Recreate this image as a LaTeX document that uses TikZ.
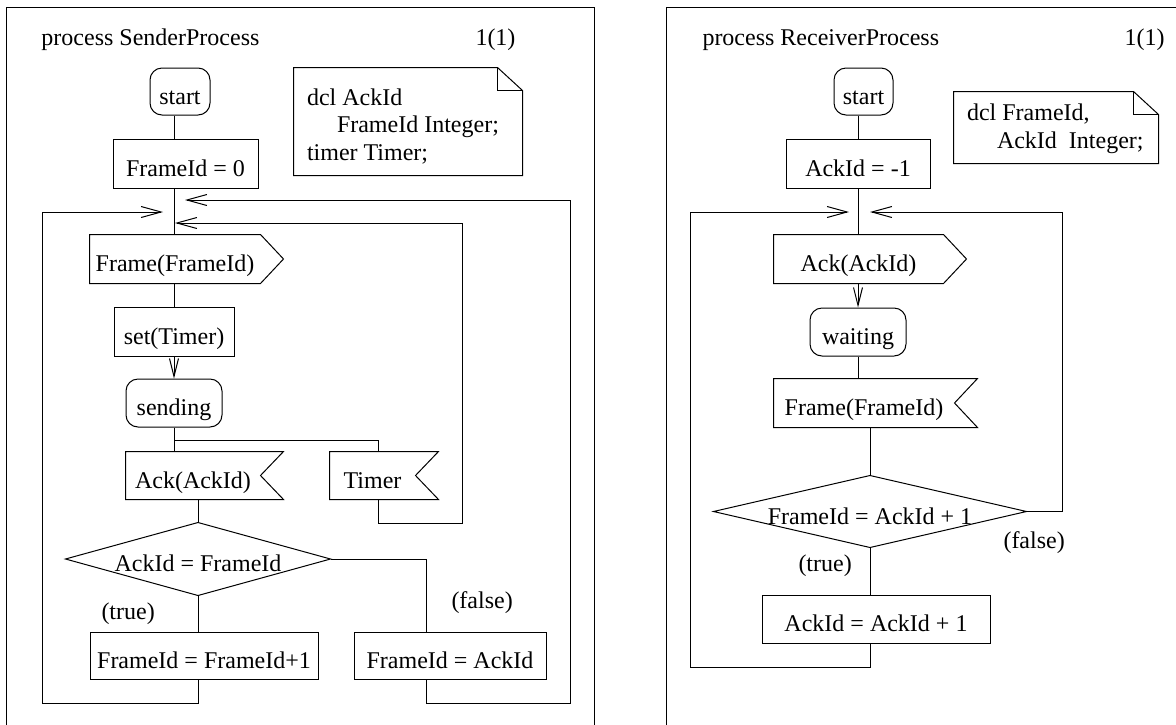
\documentclass[tikz,border=0pt]{standalone}
\usepackage{fontspec}
\setmainfont{Liberation Serif}
\usetikzlibrary{arrows.meta}

% outlines drawn round a named node
\newcommand{\inshape}[1]{\draw (#1.north west) -- ([xshift=23pt]#1.north east) -- (#1.east) -- ([xshift=23pt]#1.south east) -- (#1.south west) -- cycle;}
\newcommand{\outshape}[1]{\draw (#1.north west) -- (#1.north east) -- ([xshift=23pt]#1.east) -- (#1.south east) -- (#1.south west) -- cycle;}
\newcommand{\decshape}[1]{\draw (#1.north) -- (#1.east) -- (#1.south) -- (#1.west) -- cycle;}
\newcommand{\noteshape}[1]{\draw (#1.north west) -- ([xshift=-25pt]#1.north east) -- ([yshift=-23pt]#1.north east) -- (#1.south east) -- (#1.south west) -- cycle;
  \draw ([xshift=-25pt]#1.north east) |- ([yshift=-23pt]#1.north east);}

\tikzset{
  sdl/.style={rectangle, inner sep=0pt, text height=25pt, text depth=0pt},
  task/.style={sdl, draw},
  state/.style={sdl, draw, rounded corners=12pt},
  sig/.style={sdl},
  note/.style={rectangle, inner sep=0pt},
  notetext/.style={inner sep=0pt, align=left, anchor=north west},
  lbl/.style={inner sep=0pt, anchor=base west},
  flow/.style={-{Straight Barb[length=20pt,width=11pt]}},
  down/.style={-{Straight Barb[length=18pt,width=9pt]}}
}

\begin{document}
\begin{tikzpicture}[x=1pt, y=-1pt, line width=1pt, font=\fontsize{24}{27.5}\selectfont]
    \useasboundingbox (0,0) rectangle (1176,724);

    % Sender process frame
    \draw (6,730) -- (6,7) -- (594,7) -- (594,730);
    \node[lbl] (stitle) at (41,45) {process SenderProcess};
    \node[lbl] (spage) at (475,45) {1(1)};

    % Declarations
    \node[note, minimum width=228pt, minimum height=107pt] (sdcl) at (408,121.5) {};
    \noteshape{sdcl}
    \node[notetext] (sdcltext) at ([xshift=13pt,yshift=-20.5pt]sdcl.north west) {dcl AckId\\\hspace*{30pt}FrameId Integer;\\timer Timer;};

    % Sender symbols
    \node[state, minimum width=60pt, minimum height=47pt] (start) at (180,91.5) {start};
    \node[task, minimum width=145pt, minimum height=49pt] (init) at (185.5,163.5) {FrameId = 0};
    \node[sig, minimum width=170pt, minimum height=48pt] (send) at (175,259) {Frame(FrameId)};
    \outshape{send}
    \node[task, minimum width=120pt, minimum height=49pt] (settimer) at (174,331.5) {set(Timer)};
    \node[state, minimum width=96pt, minimum height=48pt] (sending) at (174,403) {sending};
    \node[sig, minimum width=134pt, minimum height=47pt] (ack) at (193,475.5) {Ack(AckId)};
    \inshape{ack}
    \node[sig, minimum width=85pt, minimum height=47pt] (timer) at (372.5,475.5) {Timer};
    \inshape{timer}
    \node[sig, minimum width=264pt, minimum height=72pt] (check) at (198,559) {AckId = FrameId};
    \decshape{check}
    \node[task, minimum width=228pt, minimum height=47pt] (next) at (204,655.5) {FrameId = FrameId+1};
    \node[task, minimum width=192pt, minimum height=47pt] (resend) at (450,655.5) {FrameId = AckId};
    \node[lbl] (strue) at (101,619) {(true)};
    \node[lbl] (sfalse) at (451,608) {(false)};

    % Sender flow
    \coordinate (trunk) at (174,0);
    \coordinate (fork) at (174,440);
    \draw (start.south -| trunk) -- (init.north -| trunk);
    \draw (init.south -| trunk) -- (send.north -| trunk);
    \draw (send.south -| trunk) -- (settimer.north);
    \draw[down] (settimer.south) -- (sending.north);
    \draw (sending.south) -- (ack.north -| sending.south);
    \draw (fork) -| ([xshift=5.5pt]timer.north);
    \draw (ack.south -| check.north) -- (check.north);
    \draw[flow] ([xshift=5.5pt]timer.south) -- ++(0,24) -| (462,223) -- (175,223);
    \draw (check.south) -- (next.north -| check.south);
    \draw (check.east) -| ([xshift=-24pt]resend.north);
    \draw[flow] (next.south -| check.south) -- ++(0,24) -| (42,212) -- (163,212);
    \draw[flow] ([xshift=-24pt]resend.south) -- ++(0,24) -| (570,200) -- (185,200);

    % Receiver process frame
    \draw (666,730) -- (666,7) -- (1180,7);
    \node[lbl] (rtitle) at (702,45) {process ReceiverProcess};
    \node[lbl] (rpage) at (1124,45) {1(1)};

    % Declarations
    \node[note, minimum width=204pt, minimum height=71pt] (rdcl) at (1056,127.5) {};
    \noteshape{rdcl}
    \node[notetext] (rdcltext) at ([xshift=13pt,yshift=-12pt]rdcl.north west) {dcl FrameId,\\\hspace*{30pt}AckId\ \ Integer;};

    % Receiver symbols
    \node[state, minimum width=59pt, minimum height=47pt] (rstart) at (863.5,91.5) {start};
    \node[task, minimum width=144pt, minimum height=49pt] (rinit) at (858,163.5) {AckId = -1};
    \node[sig, minimum width=169pt, minimum height=48pt] (reply) at (858.5,259) {Ack(AckId)};
    \outshape{reply}
    \node[state, minimum width=96pt, minimum height=48pt] (waiting) at (858,332) {waiting};
    \node[sig, minimum width=180pt, minimum height=48pt] (frame) at (864,403) {Frame(FrameId)};
    \inshape{frame}
    \node[sig, minimum width=312pt, minimum height=71pt] (rcheck) at (870,511.5) {FrameId = AckId + 1};
    \decshape{rcheck}
    \node[task, minimum width=228pt, minimum height=48pt] (rnext) at (876,619) {AckId = AckId + 1};
    \node[lbl] (rtrue) at (798,571) {(true)};
    \node[lbl] (rfalse) at (1003,548) {(false)};

    % Receiver flow
    \coordinate (rtrunk) at (858,0);
    \draw (rstart.south -| rtrunk) -- (rinit.north);
    \draw (rinit.south) -- (reply.north -| rinit.south);
    \draw[down] (reply.south -| waiting) -- (waiting.north);
    \draw (waiting.south) -- (frame.north -| waiting.south);
    \draw (frame.south -| rcheck) -- (rcheck.north);
    \draw (rcheck.south) -- (rnext.north -| rcheck.south);
    \draw[flow] (rcheck.east) -| (1062,212) -- (870,212);
    \draw[flow] (rnext.south -| rcheck.south) -- ++(0,24) -| (690,212) -- (849,212);
\end{tikzpicture}
\end{document}
